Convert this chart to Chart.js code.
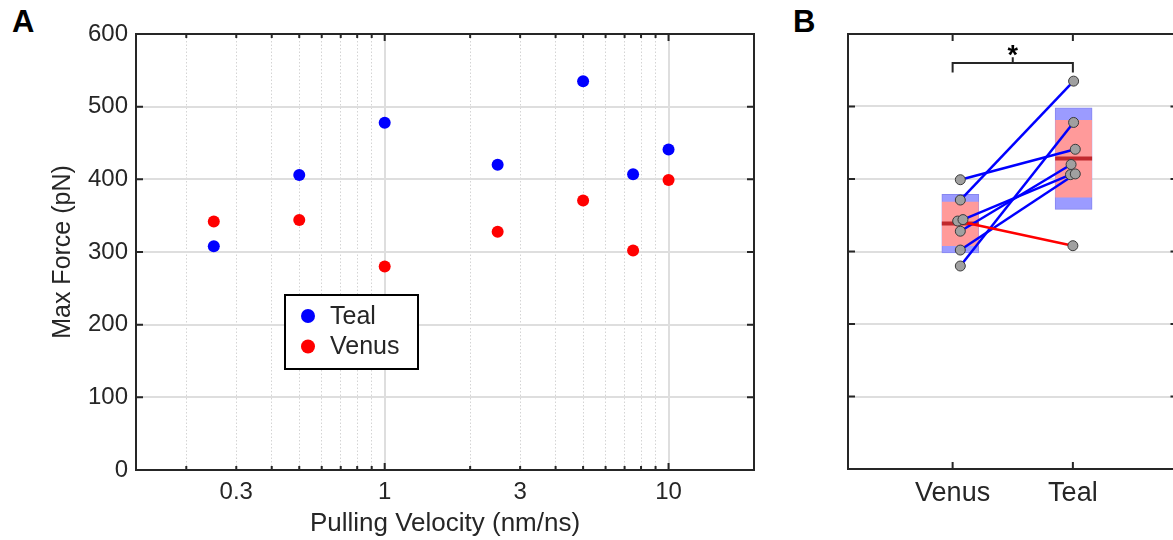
<!DOCTYPE html>
<html lang="en">
<head>
<meta charset="UTF-8">
<title>Max Force vs Pulling Velocity</title>
<script src="https://cdn.jsdelivr.net/npm/chart.js@4.4.0/dist/chart.umd.min.js"></script>
<style>
    html, body { margin: 0; padding: 0; overflow: hidden; background: #fff; }
    body { position: relative; width: 1220px; height: 540px; }
    .panel-label {
        position: absolute;
        font: bold 31px 'Liberation Sans', Arial, sans-serif;
        line-height: 30px;
        color: #000;
    }
    #chartA { position: absolute; left: 0; top: 0; }
    #chartB { position: absolute; left: 780px; top: 0; }
</style>
</head>
<body>
<div class="panel-label" style="left:12px; top:7px;">A</div>
<div class="panel-label" style="left:793px; top:7px;">B</div>
<canvas id="chartA" width="780" height="540"></canvas>
<canvas id="chartB" width="420" height="540"></canvas>

<script>
// ---- data, panel A ----
const velocities = [0.25, 0.5, 1, 2.5, 5, 7.5, 10];
const tealForce  = [308, 406, 478, 420, 535, 407, 441];
const venusForce = [342, 344, 280, 328, 371, 302, 399];
const forceTicks = [0, 100, 200, 300, 400, 500, 600];
const velocityTicks = [0.2, 0.3, 0.4, 0.5, 0.6, 0.7, 0.8, 0.9, 1, 2, 3, 4, 5, 6, 7, 8, 9, 10, 20];
const velocityLabels = [0.3, 1, 3, 10];
const velocityDecades = [1, 10];

// ---- data, panel B ----
const groups = ['Venus', 'Teal'];
const venusJitter = [1.042, 1.086, 1.064, 1.064, 1.064, 1.064, 1.064];
const tealJitter  = [2.0, 1.98, 2.006, 1.985, 2.006, 2.02, 2.02];
const boxCenter = [1.064, 2.006];
const boxOuter  = [[298, 379], [358, 498]];
const boxInner  = [[308, 368], [375, 481]];
const boxMean   = [338.6, 428.3];
const bracketEnds = [1, 2];
const bracketLevels = [547, 560, 568];   // leg bottom, bar, centre tick
const starLevel = 558;

Chart.defaults.font.family = "'Liberation Sans', Arial, sans-serif";
Chart.defaults.color = '#262626';

const INK = '#262626';
const GRID = '#dedede';

function framePlugin(xVals, xMajor, yVals) {
    return {
        id: 'frame',
        afterDraw(chart) {
            const { ctx, chartArea: a, scales: { x, y } } = chart;
            ctx.save();
            ctx.strokeStyle = INK;
            ctx.lineWidth = 2;
            ctx.beginPath();
            xVals.forEach(v => {
                const px = x.getPixelForValue(v);
                if (px <= a.left + 1 || px >= a.right - 1) return;
                const len = xMajor.includes(v) ? 7 : 4;
                ctx.moveTo(px, a.bottom); ctx.lineTo(px, a.bottom - len);
                ctx.moveTo(px, a.top); ctx.lineTo(px, a.top + len);
            });
            yVals.forEach(v => {
                const py = y.getPixelForValue(v);
                ctx.moveTo(a.left, py); ctx.lineTo(a.left + 7, py);
                ctx.moveTo(a.right, py); ctx.lineTo(a.right - 7, py);
            });
            ctx.stroke();
            ctx.strokeRect(a.left, a.top, a.right - a.left, a.bottom - a.top);
            ctx.restore();
        }
    };
}

// legend drawn inside the plot, like the original
const boxLegend = {
    id: 'boxLegend',
    afterDraw(chart) {
        const ctx = chart.ctx;
        ctx.save();
        ctx.fillStyle = '#fff';
        ctx.fillRect(285, 295, 133, 74);
        ctx.strokeStyle = '#000';
        ctx.lineWidth = 2;
        ctx.strokeRect(285, 295, 133, 74);
        ctx.font = "25px 'Liberation Sans', Arial, sans-serif";
        ctx.textBaseline = 'middle';
        chart.data.datasets.forEach((ds, i) => {
            const cy = 316 + i * 30.5;
            ctx.fillStyle = ds.backgroundColor;
            ctx.beginPath();
            ctx.arc(308, cy, 7, 0, Math.PI * 2);
            ctx.fill();
            ctx.fillStyle = INK;
            ctx.fillText(ds.label, 330, cy + 1);
        });
        ctx.restore();
    }
};

new Chart(document.getElementById('chartA'), {
    type: 'scatter',
    data: {
        datasets: [
            {
                label: 'Teal',
                data: velocities.map((v, i) => ({ x: v, y: tealForce[i] })),
                backgroundColor: '#0000ff',
                borderWidth: 0,
                pointRadius: 6
            },
            {
                label: 'Venus',
                data: velocities.map((v, i) => ({ x: v, y: venusForce[i] })),
                backgroundColor: '#ff0000',
                borderWidth: 0,
                pointRadius: 6
            }
        ]
    },
    options: {
        responsive: false,
        animation: false,
        events: [],
        layout: { padding: { top: 34, right: 26, bottom: 0, left: 0 } },
        plugins: { legend: { display: false }, tooltip: { enabled: false } },
        scales: {
            x: {
                type: 'logarithmic',
                min: 0.133,
                max: 20,
                afterBuildTicks: s => { s.ticks = velocityTicks.map(v => ({ value: v })); },
                afterFit: s => { s.height = 70; s.paddingLeft = 0; s.paddingRight = 0; },
                ticks: {
                    autoSkip: false,
                    maxRotation: 0,
                    padding: 8,
                    font: { size: 24 },
                    callback: v => velocityLabels.includes(v) ? String(v) : ''
                },
                grid: {
                    drawTicks: false,
                    lineWidth: c => velocityDecades.includes(c.tick && c.tick.value) ? 2 : 1,
                    color: c => velocityDecades.includes(c.tick && c.tick.value) ? GRID : '#d4d4d4'
                },
                border: {
                    display: false,
                    dash: c => velocityDecades.includes(c.tick && c.tick.value) ? [] : [1.5, 2]
                },
                title: {
                    display: true,
                    text: 'Pulling Velocity (nm/ns)',
                    font: { size: 26 },
                    padding: { top: 0, bottom: 1 }
                }
            },
            y: {
                min: 0,
                max: 600,
                afterBuildTicks: s => { s.ticks = forceTicks.map(v => ({ value: v })); },
                afterFit: s => { s.width = 136; },
                ticks: { padding: 8, font: { size: 24 } },
                grid: { drawTicks: false, color: GRID, lineWidth: 2 },
                border: { display: false },
                title: {
                    display: true,
                    text: 'Max Force (pN)',
                    font: { size: 25 },
                    padding: { top: 48, bottom: 0 }
                }
            }
        }
    },
    plugins: [framePlugin(velocityTicks, velocityDecades, forceTicks), boxLegend]
});

// ---- panel B ----
const bracketPlugin = {
    id: 'bracket',
    afterDraw(chart) {
        const { ctx, scales: { x, y } } = chart;
        const x1 = x.getPixelForValue(bracketEnds[0]);
        const x2 = x.getPixelForValue(bracketEnds[1]);
        const xm = (x1 + x2) / 2;
        const yLeg = y.getPixelForValue(bracketLevels[0]);
        const yBar = y.getPixelForValue(bracketLevels[1]);
        const yTop = y.getPixelForValue(bracketLevels[2]);
        ctx.save();
        ctx.strokeStyle = INK;
        ctx.lineWidth = 2;
        ctx.beginPath();
        ctx.moveTo(x1, yLeg); ctx.lineTo(x1, yBar); ctx.lineTo(x2, yBar); ctx.lineTo(x2, yLeg);
        ctx.moveTo(xm, yBar); ctx.lineTo(xm, yTop);
        ctx.stroke();
        ctx.fillStyle = '#000';
        ctx.font = "bold 27px 'Liberation Sans', Arial, sans-serif";
        ctx.textAlign = 'center';
        ctx.textBaseline = 'alphabetic';
        ctx.fillText('*', xm, y.getPixelForValue(starLevel));
        ctx.restore();
    }
};

const pairLines = velocities.map((v, i) => ({
    type: 'line',
    data: [
        { x: venusJitter[i], y: venusForce[i] },
        { x: tealJitter[i], y: tealForce[i] }
    ],
    borderColor: venusForce[i] > tealForce[i] ? '#ff0000' : '#0000ff',
    borderWidth: 2.5,
    pointRadius: 0,
    order: 1
}));

new Chart(document.getElementById('chartB'), {
    type: 'scatter',
    data: {
        datasets: [
            {
                data: venusForce.map((f, i) => ({ x: venusJitter[i], y: f })),
                backgroundColor: '#a0a0a0',
                borderColor: '#3a3a3a',
                borderWidth: 1,
                pointRadius: 5,
                order: 0
            },
            {
                data: tealForce.map((f, i) => ({ x: tealJitter[i], y: f })),
                backgroundColor: '#a0a0a0',
                borderColor: '#3a3a3a',
                borderWidth: 1,
                pointRadius: 5,
                order: 0
            },
            ...pairLines,
            {
                data: boxCenter.map((c, i) => ({ x: c, y: boxMean[i] })),
                pointStyle: 'line',
                pointRadius: 18.5,
                borderColor: '#c0282d',
                borderWidth: 4,
                order: 2
            },
            {
                type: 'bar',
                data: boxCenter.map((c, i) => ({ x: c, y: boxInner[i] })),
                backgroundColor: '#ff9a9a',
                borderWidth: 0,
                barThickness: 36,
                grouped: false,
                order: 3
            },
            {
                type: 'bar',
                data: boxCenter.map((c, i) => ({ x: c, y: boxOuter[i] })),
                backgroundColor: '#9b9bff',
                borderColor: '#8686f0',
                borderWidth: 1,
                borderSkipped: false,
                barThickness: 37,
                grouped: false,
                order: 4
            }
        ]
    },
    options: {
        responsive: false,
        animation: false,
        events: [],
        layout: { padding: { top: 34, right: 13, bottom: 0, left: 0 } },
        plugins: { legend: { display: false }, tooltip: { enabled: false } },
        scales: {
            x: {
                type: 'linear',
                offset: false,
                min: 0.13,
                max: 2.87,
                afterBuildTicks: s => { s.ticks = groups.map((g, i) => ({ value: i + 1 })); },
                afterFit: s => { s.height = 71; s.paddingLeft = 0; s.paddingRight = 0; },
                ticks: {
                    autoSkip: false,
                    maxRotation: 0,
                    padding: 0,
                    font: { size: 27 },
                    callback: v => groups[v - 1]
                },
                grid: { display: false, offset: false },
                border: { display: false }
            },
            y: {
                min: 0,
                max: 600,
                afterBuildTicks: s => { s.ticks = forceTicks.map(v => ({ value: v })); },
                afterFit: s => { s.width = 68; },
                ticks: { display: false },
                grid: { drawTicks: false, color: GRID, lineWidth: 2 },
                border: { display: false }
            }
        }
    },
    plugins: [framePlugin(bracketEnds, bracketEnds, forceTicks), bracketPlugin]
});
</script>
</body>
</html>
